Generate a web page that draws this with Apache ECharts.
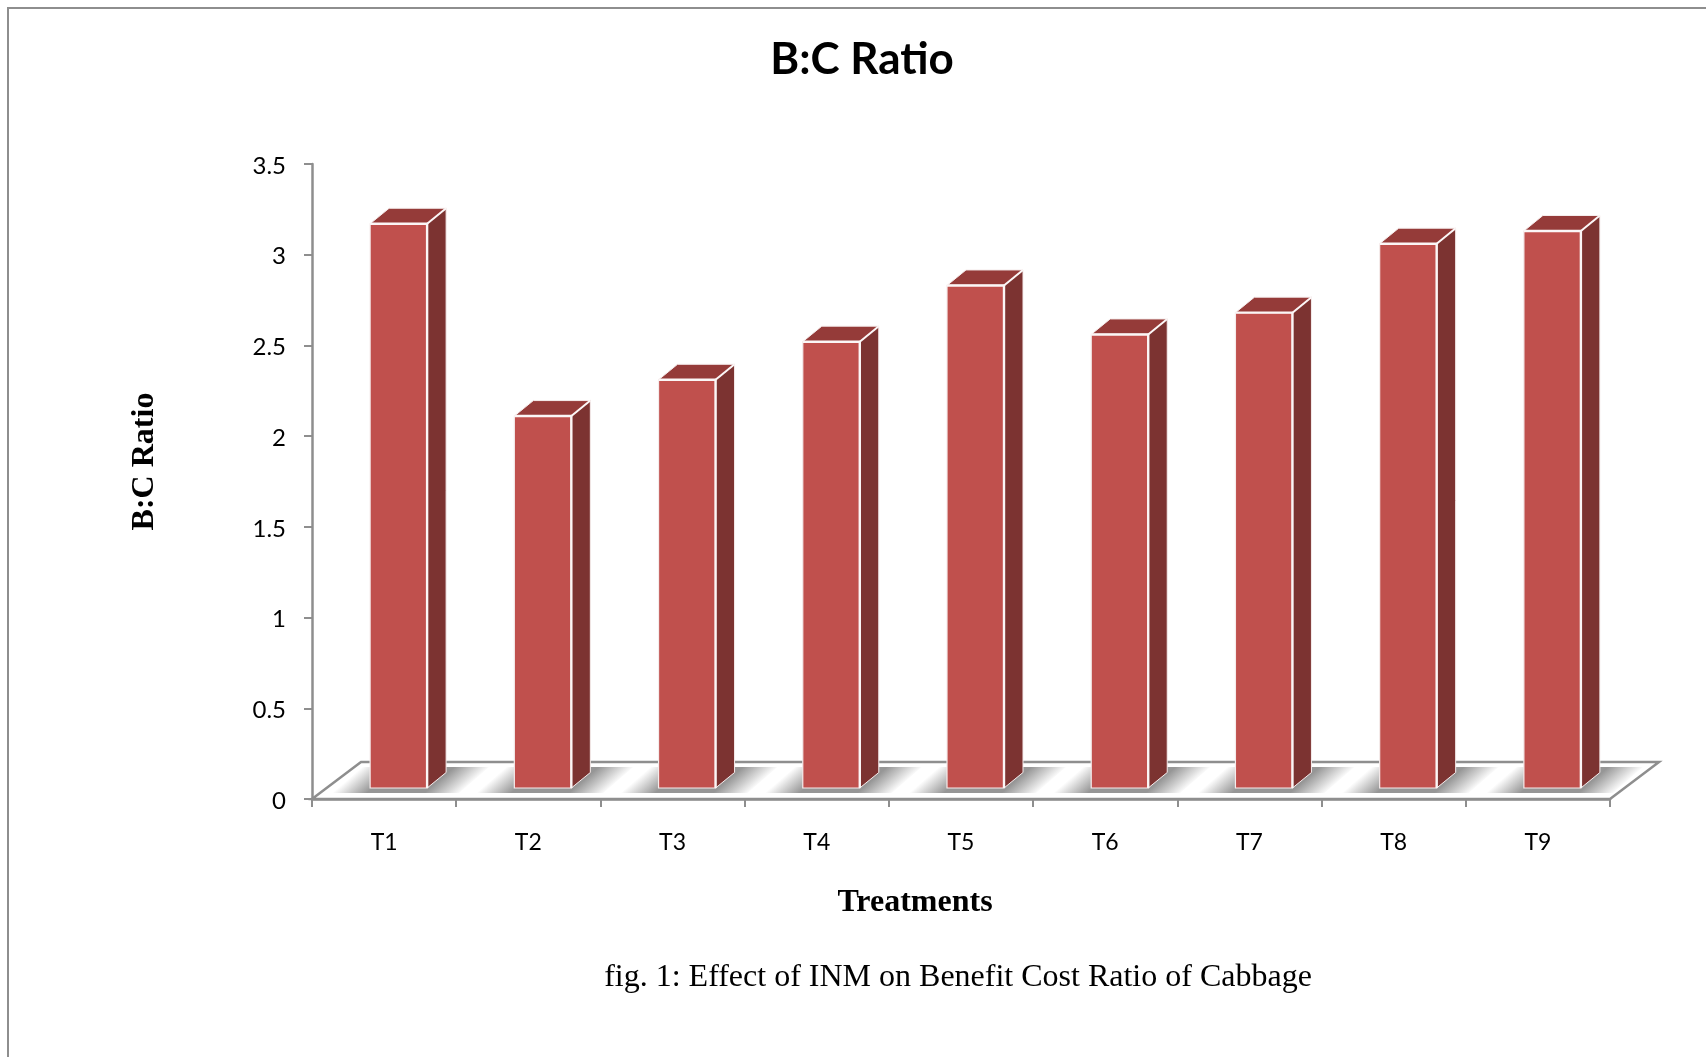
<!DOCTYPE html>
<html>
<head>
<meta charset="utf-8">
<script src="https://cdn.jsdelivr.net/npm/echarts@6/dist/echarts.min.js"></script>
<style>html,body{margin:0;padding:0;background:#fff}#c{width:1706px;height:1057px}</style>
</head>
<body>
<div id="c"></div>
<script>
const categories = ['T1','T2','T3','T4','T5','T6','T7','T8','T9'];
const bcRatio = [3.11, 2.05, 2.25, 2.46, 2.77, 2.5, 2.62, 3.0, 3.07];
const titleText = 'B:C Ratio';
const yAxisName = 'B:C Ratio';
const xAxisName = 'Treatments';
const captionText = 'fig. 1: Effect of INM on Benefit Cost Ratio of Cabbage';

const AXIS = '#8e8e8e', FRONT = '#c0504d', SIDE = '#7c3331', TOP = '#953b39';
const DX = 19, DY = 15.5, FLOOR_DX = 49, FLOOR_DY = 37, LIFT = 11, SHIFT = 14.5, BAR_W = 57;

const chart = echarts.init(document.getElementById('c'), null, {renderer:'canvas'});

function renderFloor(params, api) {
  const c = params.coordSys, b = c.y + c.height, l = c.x, r = c.x + c.width;
  return {type:'polygon', silent:true,
    shape:{points:[[l,b],[l+FLOOR_DX,b-FLOOR_DY],[r+FLOOR_DX,b-FLOOR_DY],[r,b]]},
    style:{fill:'#fff', stroke:AXIS, lineWidth:2.5}};
}
function renderShadow(params, api) {
  const base = api.coord([api.value(0), 0]);
  const L = base[0] + SHIFT - BAR_W/2, R = L + BAR_W, y = base[1];
  const yb = y - 6, yt = y - 32;
  const ax = L - 38, nx = 0.655, ny = 0.756, len = 84;
  const grad = new echarts.graphic.LinearGradient(ax, yb, ax + nx*len, yb + ny*len, [
    {offset:0, color:'rgba(150,150,150,0)'},
    {offset:0.27, color:'rgba(150,150,150,1)'},
    {offset:0.72, color:'rgba(150,150,150,1)'},
    {offset:1, color:'rgba(150,150,150,0)'}
  ], true);
  return {type:'polygon', silent:true,
    shape:{points:[[ax,yb],[L-8,yt],[R+62,yt],[R+32,yb]]},
    style:{fill:grad}};
}
function renderBar(params, api) {
  const p = api.coord([api.value(0), api.value(1)]);
  const base = api.coord([api.value(0), 0]);
  const L = p[0] + SHIFT - BAR_W/2, R = L + BAR_W, T = p[1] - LIFT, B = base[1] - LIFT;
  const EDGE = '#f5ecec';
  return {type:'group', children:[
    {type:'polygon', shape:{points:[[R,T],[R+DX,T-DY],[R+DX,B-DY],[R,B]]},
      style:{fill:SIDE, stroke:EDGE, lineWidth:1, lineJoin:'round'}},
    {type:'polygon', shape:{points:[[L,T],[L+DX,T-DY],[R+DX,T-DY],[R,T]]},
      style:{fill:TOP, stroke:EDGE, lineWidth:1, lineJoin:'round'}},
    {type:'rect', shape:{x:L, y:T, width:BAR_W, height:B-T},
      style:{fill:FRONT, stroke:EDGE, lineWidth:1.2}},
    {type:'polyline', shape:{points:[[L,T],[R,T],[R,B]]},
      style:{fill:'none', stroke:'#fbf6f6', lineWidth:2.4}},
    {type:'line', shape:{x1:R, y1:T, x2:R+DX, y2:T-DY},
      style:{stroke:'#fbf6f6', lineWidth:2}}
  ]};
}

chart.setOption({
  animation:false,
  backgroundColor:'#fff',
  title:{text:titleText, left:857, top:33, textAlign:'center',
    textStyle:{fontFamily:'Lato', fontWeight:'bold', fontSize:44, color:'#000'}},
  grid:{left:312, top:164, width:1298, height:635, containLabel:false},
  xAxis:{type:'category', data:categories, boundaryGap:true,
    name:xAxisName, nameLocation:'middle', nameGap:88,
    nameTextStyle:{fontFamily:'Liberation Serif', fontWeight:'bold', fontSize:32, color:'#000', padding:[0,92,0,0]},
    axisLine:{show:true, lineStyle:{color:AXIS, width:2.5}},
    axisTick:{show:true, alignWithLabel:false, length:8, lineStyle:{color:AXIS, width:2}},
    axisLabel:{margin:32, fontFamily:'Lato', fontSize:23, color:'#000', interval:0},
    splitLine:{show:false}},
  yAxis:{type:'value', min:0, max:3.5, interval:0.5,
    name:yAxisName, nameLocation:'middle', nameGap:151, nameRotate:90,
    nameTextStyle:{fontFamily:'Liberation Serif', fontWeight:'bold', fontSize:32, color:'#000', padding:[0,0,0,40]},
    axisLine:{show:true, lineStyle:{color:AXIS, width:2.5}},
    axisTick:{show:true, length:8, lineStyle:{color:AXIS, width:2}},
    axisLabel:{margin:26, fontFamily:'Lato', fontSize:24, color:'#000', verticalAlign:'top', lineHeight:24, padding:[-10,0,0,0]},
    splitLine:{show:false}},
  graphic:[
    {type:'polyline', silent:true, shape:{points:[[8,1057],[8,8],[1706,8]]}, style:{fill:'none', stroke:'#8e8e8e', lineWidth:2}},
    {type:'text', silent:true, style:{x:958, y:978, text:captionText, align:'center', verticalAlign:'middle',
      font:'32px "Liberation Serif"', fill:'#000'}}
  ],
  series:[
    {type:'custom', name:'floor', data:[0], z:1, renderItem:renderFloor, encode:{x:0}},
    {type:'custom', name:'shadow', data:categories.map((c,i)=>[i,0]), z:2, renderItem:renderShadow, encode:{x:0,y:1}},
    {type:'custom', name:'B:C Ratio', data:bcRatio.map((v,i)=>[i,v]), z:3, renderItem:renderBar, encode:{x:0,y:1}}
  ]
});
</script>
</body>
</html>
